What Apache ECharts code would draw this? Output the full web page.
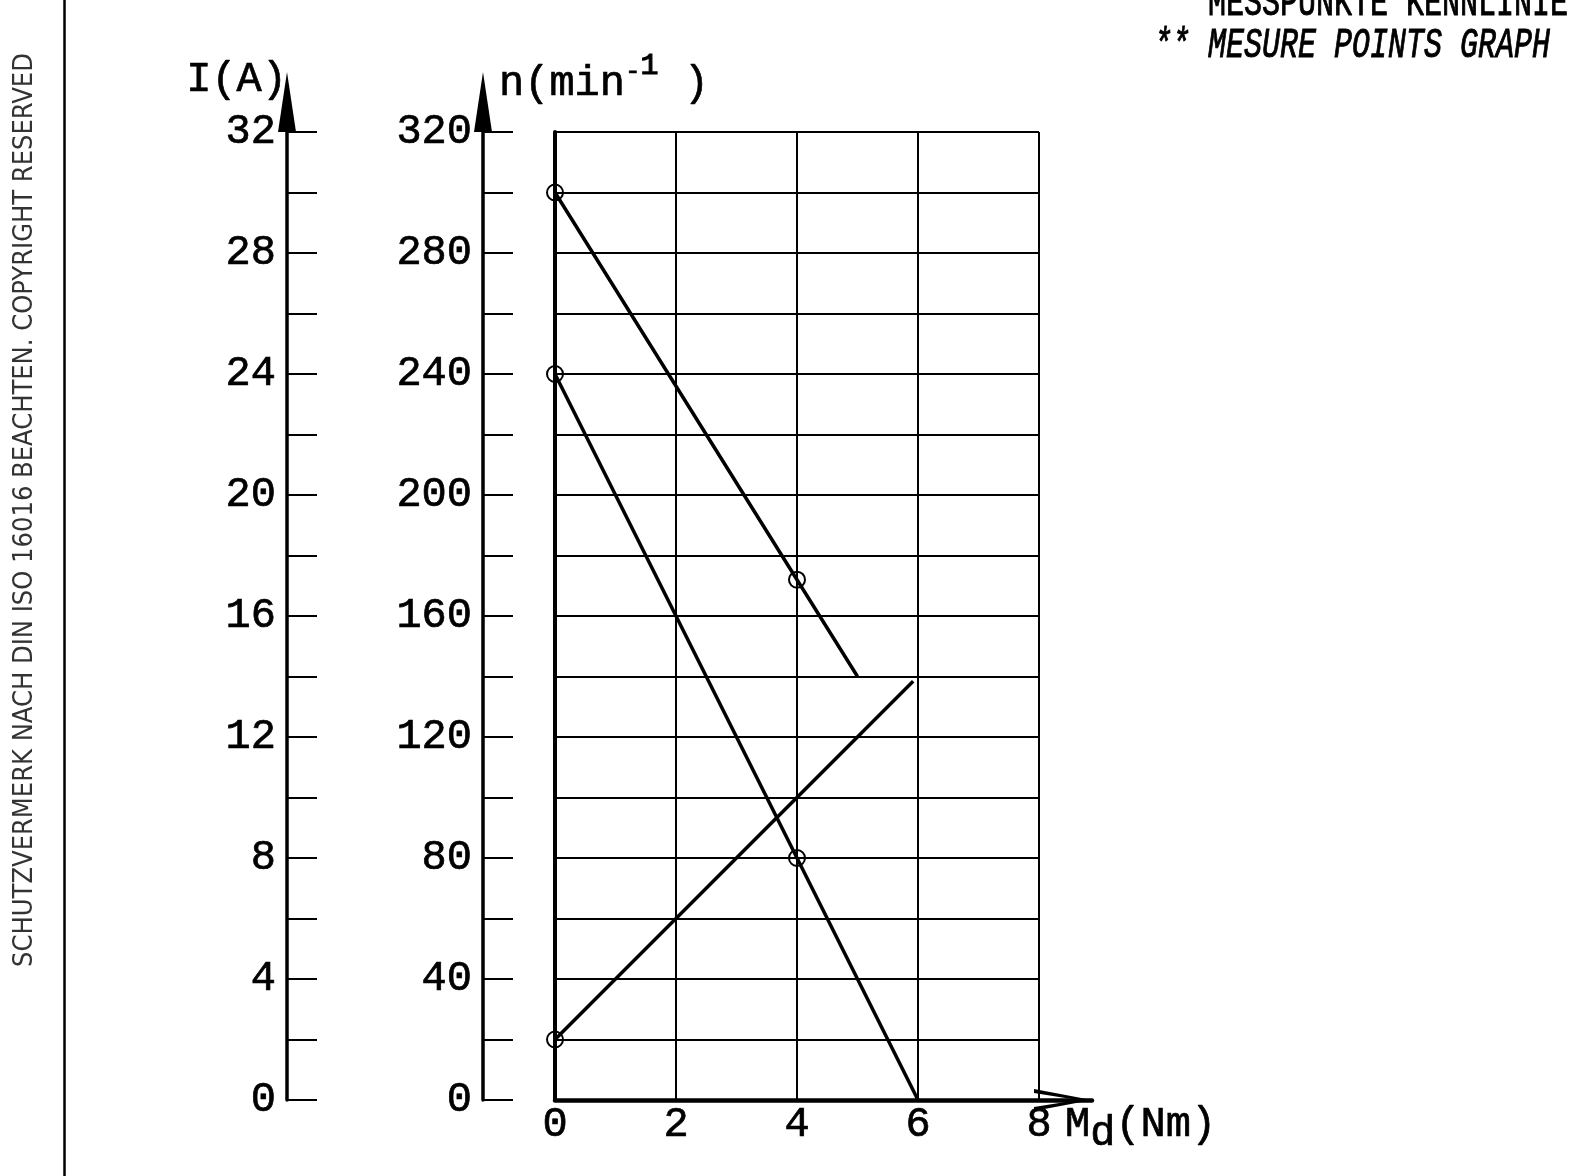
<!DOCTYPE html>
<html>
<head>
<meta charset="utf-8">
<script src="https://cdn.jsdelivr.net/npm/echarts@6/dist/echarts.min.js"></script>
<style>
  html, body { margin: 0; padding: 0; background: #fff; }
  #chart { width: 1576px; height: 1176px; }
</style>
</head>
<body>
<div id="chart"></div>
<script>
// Md (Nm) vs n (min-1) / I (A)
const mdTicks = [0, 2, 4, 6, 8];
const nTicks = [0, 40, 80, 120, 160, 200, 240, 280, 320];
const iTicks = [0, 4, 8, 12, 16, 20, 24, 28, 32];

// speed curves (n axis) and current curve (I axis): [Md, value]
const speedHigh = [[0, 300], [4, 172], [5, 140]];
const speedHighMarks = [true, true, false];
const speedLow = [[0, 240], [4, 80], [6, 0]];
const speedLowMarks = [true, true, false];
const current = [[0, 2], [5.92, 13.84]];
const currentMarks = [true, false];

const FONT = 'Liberation Mono';
const BLACK = '#000';

function withMarks(points, marks) {
  return points.map((p, i) => marks[i] ? p : { value: p, symbol: 'none' });
}

function curve(points, marks, yIdx) {
  return {
    type: 'line',
    xAxisIndex: 0,
    yAxisIndex: yIdx,
    data: withMarks(points, marks),
    symbol: 'circle',
    symbolSize: 16,
    itemStyle: { color: 'rgba(0,0,0,0)', borderColor: BLACK, borderWidth: 2 },
    lineStyle: { color: BLACK, width: 3.5 },
    silent: true,
    z: 5
  };
}

// regular mono face, thickened a little with an outline
const txt = (size, extra) => Object.assign({
  fontFamily: FONT, fontSize: size, color: BLACK,
  textBorderColor: BLACK, textBorderWidth: 0.7
}, extra);
const labelStyle = txt(42);

function valueAxis(max, step, labels, offset, extra) {
  return Object.assign({
    type: 'value',
    gridIndex: 0,
    position: 'left',
    min: 0,
    max: max,
    interval: step,
    offset: offset,
    axisLine: {
      show: true,
      onZero: false,
      symbol: ['none', 'triangle'],
      symbolSize: [18, 60],
      symbolOffset: [0, 30],
      lineStyle: { color: BLACK, width: 3.5 }
    },
    axisTick: { show: true, inside: true, length: 30, lineStyle: { color: BLACK, width: 2 } },
    axisLabel: Object.assign({
      margin: 11,
      formatter: v => labels.includes(v) ? String(v) : ''
    }, labelStyle),
    splitLine: { show: false }
  }, extra);
}

const chart = echarts.init(document.getElementById('chart'));

chart.setOption({
  animation: false,
  backgroundColor: '#fff',
  grid: [
    { left: 555, right: 537, top: 132, bottom: 76 },
    { left: 555, right: 484, top: 132, bottom: 76 }
  ],
  xAxis: [
    {
      type: 'value',
      gridIndex: 0,
      min: 0,
      max: 8,
      interval: 2,
      axisLine: { show: false, onZero: false },
      axisTick: { show: false },
      axisLabel: Object.assign({
        margin: 4,
        formatter: v => mdTicks.includes(v) ? String(v) : ''
      }, labelStyle),
      splitLine: { show: true, lineStyle: { color: BLACK, width: 2 } },
      name: '{m|M}{d|d}{m|(Nm)}',
      nameLocation: 'end',
      nameGap: 26,
      nameTextStyle: {
        align: 'left',
        verticalAlign: 'top',
        padding: [4, 0, 0, 0],
        rich: {
          m: txt(42, { verticalAlign: 'top' }),
          d: txt(42, { verticalAlign: 'top', padding: [9, 0, 0, 0] })
        }
      }
    },
    {
      type: 'value',
      gridIndex: 1,
      min: 0,
      max: 1,
      axisLine: {
        show: true,
        onZero: false,
        symbol: ['none', 'path://M0,58 L11,0 L22,58 L18,58 L11,14 L4,58 Z'],
        symbolSize: [22, 58],
        symbolOffset: [0, -29],
        lineStyle: { color: BLACK, width: 4.5 }
      },
      axisTick: { show: false },
      axisLabel: { show: false },
      splitLine: { show: false }
    }
  ],
  yAxis: [
    valueAxis(320, 20, nTicks, 72, {
      splitLine: { show: true, lineStyle: { color: BLACK, width: 2 } },
      name: '{b|n(min}{m|-}{s|1}{b| )}',
      nameLocation: 'end',
      nameGap: 54,
      nameTextStyle: {
        align: 'left',
        verticalAlign: 'middle',
        padding: [0, 0, 0, 16],
        rich: {
          b: txt(42, { verticalAlign: 'top', padding: [11, 0, 0, 0] }),
          m: txt(26, { verticalAlign: 'top', padding: [8, 0, 0, 0] }),
          s: txt(30, { verticalAlign: 'top', textBorderWidth: 1.2 })
        }
      }
    }),
    valueAxis(32, 2, iTicks, 268, {
      name: 'I(A)',
      nameLocation: 'end',
      nameGap: 52,
      nameTextStyle: Object.assign({ align: 'right', verticalAlign: 'middle' }, labelStyle)
    }),
    {
      type: 'value',
      gridIndex: 0,
      position: 'left',
      min: 0,
      max: 320,
      offset: 0,
      axisLine: { show: true, onZero: false, lineStyle: { color: BLACK, width: 4 } },
      axisTick: { show: false },
      axisLabel: { show: false },
      splitLine: { show: false }
    },
    { type: 'value', gridIndex: 1, show: false, min: 0, max: 1 }
  ],
  graphic: [
    {
      type: 'line',
      shape: { x1: 64.5, y1: 0, x2: 64.5, y2: 1176 },
      style: { stroke: BLACK, lineWidth: 2.5 },
      silent: true
    },
    {
      type: 'text',
      x: 25,
      y: 510,
      rotation: Math.PI / 2,
      style: {
        text: 'SCHUTZVERMERK NACH DIN ISO 16016 BEACHTEN. COPYRIGHT RESERVED',
        font: '27px "DejaVu Sans Condensed"',
        fill: '#333',
        align: 'center',
        verticalAlign: 'middle'
      },
      silent: true
    },
    {
      type: 'text',
      x: 1154,
      y: 4,
      scaleY: 1.4,
      style: {
        text: '** MESSPUNKTE KENNLINIE',
        font: '30px "Liberation Mono"',
        fill: BLACK,
        stroke: BLACK,
        lineWidth: 0.7,
        align: 'left',
        verticalAlign: 'middle'
      },
      silent: true
    },
    {
      type: 'text',
      x: 1154,
      y: 46,
      scaleY: 1.4,
      style: {
        text: '** MESURE POINTS GRAPH',
        font: 'italic 30px "Liberation Mono"',
        fill: BLACK,
        stroke: BLACK,
        lineWidth: 0.7,
        align: 'left',
        verticalAlign: 'middle'
      },
      silent: true
    }
  ],
  series: [
    curve(speedHigh, speedHighMarks, 0),
    curve(speedLow, speedLowMarks, 0),
    curve(current, currentMarks, 1)
  ]
});
</script>
</body>
</html>
